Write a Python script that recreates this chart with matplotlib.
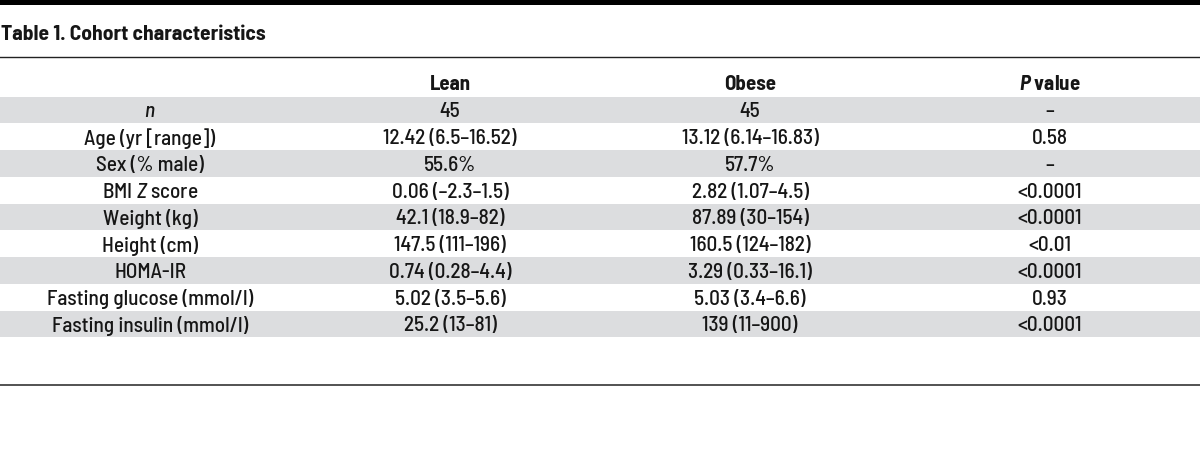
import matplotlib
matplotlib.use("Agg")
import matplotlib.pyplot as plt

# table content
title = "Table 1. Cohort characteristics"
col_headers = ["Lean", "Obese", r"$\mathbfit{P}$ value"]
row_labels = [r"$\mathit{n}$", "Age (yr [range])", "Sex (% male)", r"BMI $\mathit{Z}$ score",
              "Weight (kg)", "Height (cm)", "HOMA-IR", "Fasting glucose (mmol/l)",
              "Fasting insulin (mmol/l)"]
lean = ["45", "12.42 (6.5–16.52)", "55.6%", "0.06 (–2.3–1.5)", "42.1 (18.9–82)",
        "147.5 (111–196)", "0.74 (0.28–4.4)", "5.02 (3.5–5.6)", "25.2 (13–81)"]
obese = ["45", "13.12 (6.14–16.83)", "57.7%", "2.82 (1.07–4.5)", "87.89 (30–154)",
         "160.5 (124–182)", "3.29 (0.33–16.1)", "5.03 (3.4–6.6)", "139 (11–900)"]
p_value = ["–", "0.58", "–", "<0.0001", "<0.0001", "<0.01", "<0.0001", "0.93", "<0.0001"]

FONT = "Barlow Semi Condensed"
plt.rcParams['font.family'] = [FONT, "DejaVu Sans"]
plt.rcParams['mathtext.fontset'] = 'custom'
plt.rcParams['mathtext.rm'] = FONT + ':medium'
plt.rcParams['mathtext.it'] = FONT + ':italic:medium'
plt.rcParams['mathtext.bf'] = FONT + ':bold'
plt.rcParams['mathtext.bfit'] = FONT + ':bold:italic'

fig = plt.figure(figsize=(12, 4.55), dpi=100)
ax = fig.add_axes([0, 0, 1, 1])
ax.set_xlim(0, 1200)
ax.set_ylim(455, 0)
ax.axis("off")

col_x = [150, 450, 750, 1050]
row_top = 96.5
row_h = 26.75
dy = 2  # text sits a bit low in its row
grey = "#dcdddf"
ink = "#161616"

# rules
ax.axhspan(0, 4.5, color="black", lw=0)
ax.axhline(57, color="#222222", lw=1.0)
ax.axhline(385, color="#444444", lw=1.3)

ax.text(1, 33 + dy, title, fontsize=15.5, fontweight="bold", ha="left", va="center", color=ink)

for x, h in zip(col_x[1:], col_headers):
    ax.text(x, 83 + dy, h, fontsize=15, fontweight="bold", ha="center", va="center", color=ink)

for i, label in enumerate(row_labels):
    y0 = row_top + i * row_h
    if i % 2 == 0:
        ax.axhspan(y0, y0 + row_h, color=grey, lw=0)
    yc = y0 + row_h / 2 + dy
    for x, s in zip(col_x, [label, lean[i], obese[i], p_value[i]]):
        ax.text(x, yc, s, fontsize=15.3, fontweight="medium", ha="center", va="center",
                color=ink)

fig.savefig("out.png", dpi=100)
